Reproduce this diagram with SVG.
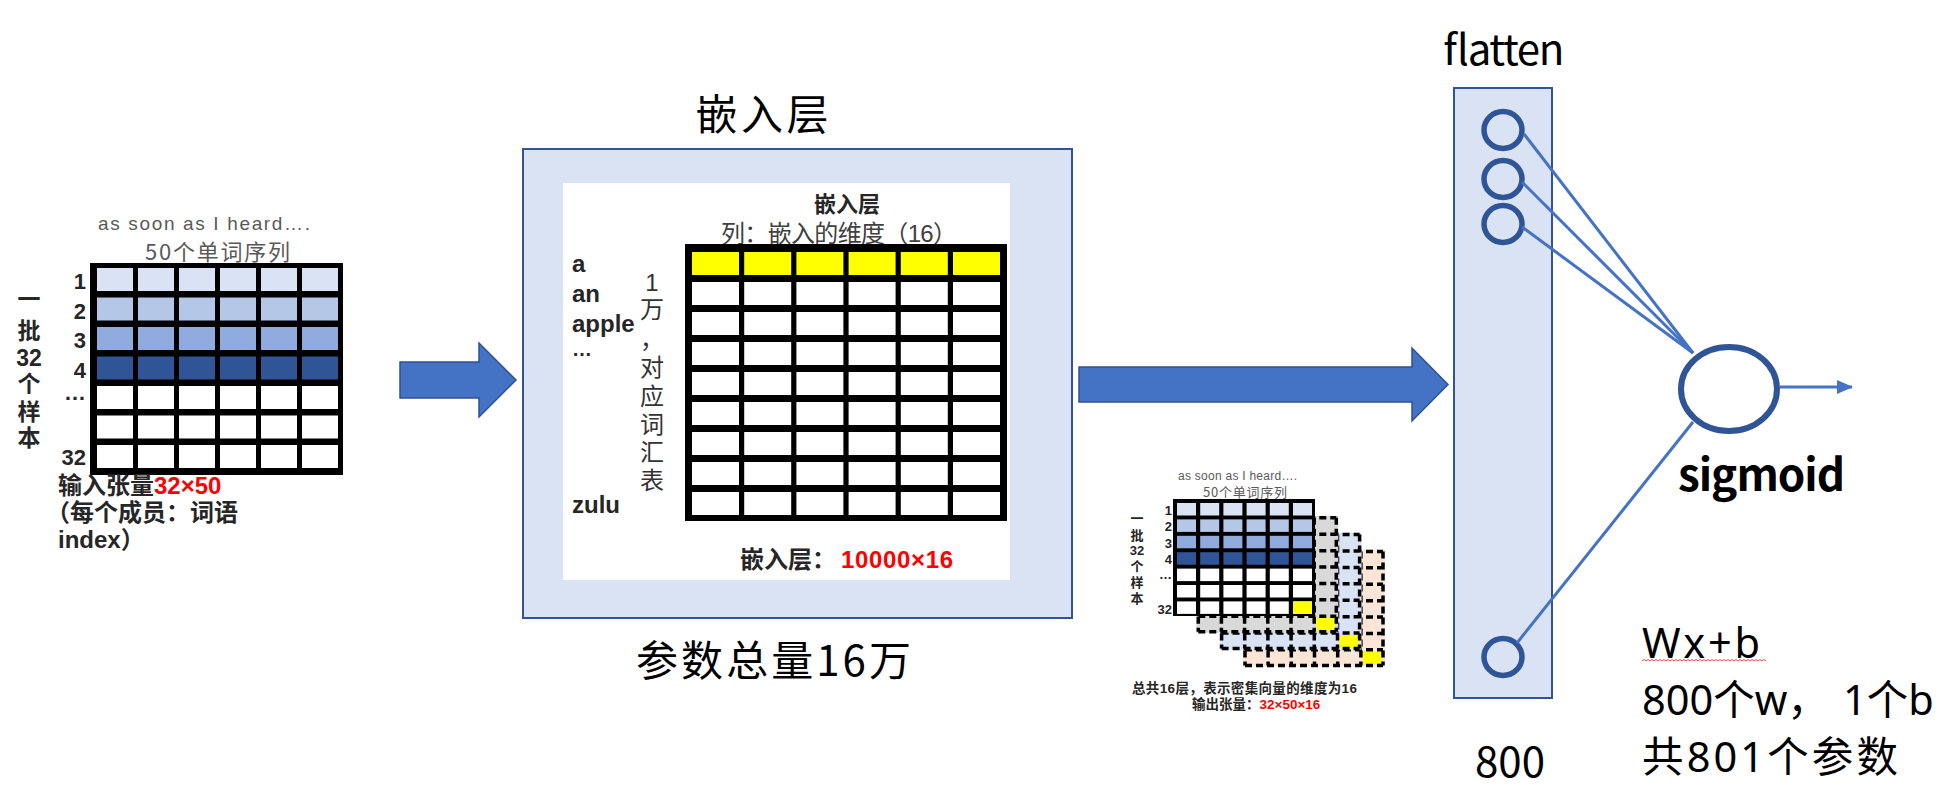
<svg xmlns="http://www.w3.org/2000/svg" width="1939" height="794" viewBox="0 0 1939 794">
<style>
.cn{font-family:"Noto Sans CJK SC","Noto Sans",sans-serif}
.lc{font-family:"Liberation Sans","Noto Sans CJK SC",sans-serif}
.ns{font-family:"Noto Sans","Noto Sans CJK SC",sans-serif}
.lt{font-family:"Liberation Sans",Arial,sans-serif}
.b{font-weight:bold}
.gray{fill:#595959}
.dk{fill:#262626}
.red{fill:#ff0000}
.panel{fill:#dae3f3;stroke:#2f5597;stroke-width:2}
.blk{fill:#000}
.vl{stroke:#000;fill:none}
.neuron{fill:none;stroke:#2f5597}
.wire{stroke:#4472c4;stroke-width:3;fill:none}
.big{fill:#4472c4;stroke:#2f528f;stroke-width:1.5}
</style>
<defs>
<path id="dgrid" d="M1175,501V615M1198.1,501V615M1221.3,501V615M1244.5,501V615M1267.7,501V615M1290.9,501V615M1313,501V615M1175,501H1313M1175,517.45H1313M1175,533.85H1313M1175,550.25H1313M1175,566.65H1313M1175,583.05H1313M1175,599.45H1313M1175,615H1313" fill="none" stroke="#000" stroke-width="3.5" stroke-dasharray="7 4"/>
<marker id="ah" markerUnits="userSpaceOnUse" markerWidth="16" markerHeight="16" refX="15" refY="8" orient="auto">
<path d="M0,1 L16,8 L0,15 Z" fill="#4472c4"/>
</marker>
</defs>
<rect width="1939" height="794" fill="#fff"/>

<!-- Input tensor -->
<g id="input-tensor">
<text class="lt gray" x="98" y="230" font-size="19" textLength="212">as soon as I heard….</text>
<text class="cn gray" x="145" y="260" font-size="22" textLength="145">50个单词序列</text>
<rect class="blk" x="90" y="263" width="253" height="212"/>
<rect x="97" y="268" width="241" height="23" fill="#dae3f3"/>
<rect x="97" y="297.5" width="241" height="23" fill="#b4c7e7"/>
<rect x="97" y="327" width="241" height="23" fill="#8faadc"/>
<rect x="97" y="356.5" width="241" height="23" fill="#2f5597"/>
<rect x="97" y="386" width="241" height="23" fill="#fff"/>
<rect x="97" y="415.5" width="241" height="23" fill="#fff"/>
<rect x="97" y="445" width="241" height="23" fill="#fff"/>
<path class="vl" stroke-width="5" d="M135.5,263V475M176.5,263V475M217.5,263V475M258.5,263V475M299.5,263V475"/>
<text class="lc b dk" font-size="22" text-anchor="end"><tspan x="86" y="289">1</tspan><tspan x="86" y="318.5">2</tspan><tspan x="86" y="348">3</tspan><tspan x="86" y="377.5">4</tspan><tspan x="86" y="400">…</tspan><tspan x="86" y="465">32</tspan></text>
<text class="lc b dk" font-size="23" text-anchor="middle"><tspan x="29" y="307">一</tspan><tspan x="29" y="339">批</tspan><tspan x="29" y="366">32</tspan><tspan x="29" y="392">个</tspan><tspan x="29" y="420">样</tspan><tspan x="29" y="446">本</tspan></text>
<text class="lc b dk" font-size="24"><tspan x="58" y="494">输入张量<tspan class="red">32×50</tspan></tspan><tspan x="46" y="521">（每个成员：词语</tspan><tspan x="58" y="548">index）</tspan></text>
</g>

<!-- Embedding layer -->
<g id="embedding-layer">
<text class="cn" x="762" y="130" font-size="42" text-anchor="middle" textLength="133" fill="#000">嵌入层</text>
<rect class="panel" x="523" y="149" width="549" height="469"/>
<rect x="563" y="183" width="447" height="397" fill="#fff"/>
<text class="lc b dk" x="847" y="212" font-size="22" text-anchor="middle">嵌入层</text>
<text class="lc" x="839" y="242" font-size="24" text-anchor="middle" textLength="236" fill="#404040">列：嵌入的维度（16）</text>
<text class="lc b dk" font-size="24"><tspan x="572" y="272">a</tspan><tspan x="572" y="302">an</tspan><tspan x="572" y="332">apple</tspan><tspan x="572" y="356" font-size="20">…</tspan><tspan x="572" y="513">zulu</tspan></text>
<text class="lc" font-size="24" text-anchor="middle" fill="#333"><tspan x="652" y="291">1</tspan><tspan x="652" y="318">万</tspan><tspan x="652" y="348">，</tspan><tspan x="652" y="376">对</tspan><tspan x="652" y="405">应</tspan><tspan x="652" y="433">词</tspan><tspan x="652" y="461">汇</tspan><tspan x="652" y="489">表</tspan></text>
<rect class="blk" x="685" y="244" width="322" height="277"/>
<rect x="692" y="252" width="308" height="23" fill="#ffff00"/>
<rect x="692" y="282" width="308" height="23" fill="#fff"/>
<rect x="692" y="312" width="308" height="23" fill="#fff"/>
<rect x="692" y="342" width="308" height="23" fill="#fff"/>
<rect x="692" y="372" width="308" height="23" fill="#fff"/>
<rect x="692" y="402" width="308" height="23" fill="#fff"/>
<rect x="692" y="432" width="308" height="23" fill="#fff"/>
<rect x="692" y="462" width="308" height="23" fill="#fff"/>
<rect x="692" y="492" width="308" height="23" fill="#fff"/>
<path class="vl" stroke-width="5.2" d="M741.6,244V521M793.8,244V521M846,244V521M898.2,244V521M950.4,244V521"/>
<text class="cn b dk" x="740" y="568" font-size="24">嵌入层：<tspan class="lt red" x="841" textLength="112">10000×16</tspan></text>
<text class="cn" x="636" y="676" font-size="42" textLength="275" fill="#000">参数总量16万</text>
</g>

<!-- Output tensor -->
<g id="output-tensor">
<text class="lt gray" x="1178" y="480" font-size="12" textLength="119">as soon as I heard….</text>
<text class="cn gray" x="1203" y="497" font-size="13" textLength="84">50个单词序列</text>
<g transform="translate(70,50.4)">
<rect x="1173" y="499" width="142" height="117" fill="#fbe5d6"/>
<rect x="1293" y="601.4" width="19" height="12.5" fill="#ffff00"/>
<use href="#dgrid"/>
</g>
<g transform="translate(46.6,33.6)">
<rect x="1173" y="499" width="142" height="117" fill="#dae3f3"/>
<rect x="1293" y="601.4" width="19" height="12.5" fill="#ffff00"/>
<use href="#dgrid"/>
</g>
<g transform="translate(23.3,16.8)">
<rect x="1173" y="499" width="142" height="117" fill="#d9d9d9"/>
<rect x="1293" y="601.4" width="19" height="12.5" fill="#ffff00"/>
<use href="#dgrid"/>
</g>
<rect class="blk" x="1173" y="499" width="142" height="117"/>
<rect x="1177" y="503" width="135" height="12.5" fill="#dae3f3"/>
<rect x="1177" y="519.4" width="135" height="12.5" fill="#b4c7e7"/>
<rect x="1177" y="535.8" width="135" height="12.5" fill="#8faadc"/>
<rect x="1177" y="552.2" width="135" height="12.5" fill="#2f5597"/>
<rect x="1177" y="568.6" width="135" height="12.5" fill="#fff"/>
<rect x="1177" y="585" width="135" height="12.5" fill="#fff"/>
<rect x="1177" y="601.4" width="135" height="12.5" fill="#fff"/>
<rect x="1293" y="601.4" width="19" height="12.5" fill="#ffff00"/>
<path class="vl" stroke-width="4.2" d="M1198.1,499V616M1221.3,499V616M1244.5,499V616M1267.7,499V616M1290.9,499V616"/>
<text class="lc b dk" font-size="13" text-anchor="end"><tspan x="1172" y="515">1</tspan><tspan x="1172" y="531.4">2</tspan><tspan x="1172" y="547.8">3</tspan><tspan x="1172" y="564.2">4</tspan><tspan x="1172" y="579">…</tspan><tspan x="1172" y="614">32</tspan></text>
<text class="lc b dk" font-size="13" text-anchor="middle"><tspan x="1137" y="523">一</tspan><tspan x="1137" y="540">批</tspan><tspan x="1137" y="555">32</tspan><tspan x="1137" y="571">个</tspan><tspan x="1137" y="587">样</tspan><tspan x="1137" y="603">本</tspan></text>
<text class="lc b dk" font-size="13.5"><tspan x="1132" y="693" textLength="225">总共16层，表示密集向量的维度为16</tspan><tspan x="1192" y="709">输出张量：<tspan class="red">32×50×16</tspan></tspan></text>
</g>

<!-- Flatten layer -->
<g id="flatten-layer">
<text class="cn" x="1442" y="65" font-size="42" textLength="121" fill="#000">flatten</text>
<rect class="panel" x="1454" y="88" width="98" height="610"/>
<ellipse class="neuron" cx="1503" cy="130" rx="19" ry="18.5" stroke-width="5.5"/>
<ellipse class="neuron" cx="1503" cy="179" rx="19" ry="18.5" stroke-width="5.5"/>
<ellipse class="neuron" cx="1503" cy="224" rx="19" ry="18.5" stroke-width="5.5"/>
<ellipse class="neuron" cx="1503" cy="657" rx="19" ry="18.5" stroke-width="5.5"/>
<text class="cn" x="1475" y="777" font-size="42" textLength="70" fill="#000">800</text>
</g>

<!-- Sigmoid node -->
<g id="sigmoid-node">
<ellipse class="neuron" cx="1729" cy="389" rx="48" ry="42" stroke-width="6" fill="#fff"/>
<text class="cn b" x="1678" y="491" font-size="44" textLength="167" fill="#000">sigmoid</text>
</g>

<!-- Formula -->
<g id="formula">
<text class="ns" font-size="41.5" fill="#000"><tspan x="1642" y="658" textLength="118">Wx+b</tspan><tspan x="1642" y="715">800个w，</tspan><tspan x="1843" y="715">1个b</tspan><tspan x="1642" y="772" textLength="256">共801个参数</tspan></text>
<path d="M1642,661l2,-1.5l2,1.5l2,-1.5l2,1.5l2,-1.5l2,1.5l2,-1.5l2,1.5l2,-1.5l2,1.5l2,-1.5l2,1.5l2,-1.5l2,1.5l2,-1.5l2,1.5l2,-1.5l2,1.5l2,-1.5l2,1.5l2,-1.5l2,1.5l2,-1.5l2,1.5l2,-1.5l2,1.5l2,-1.5l2,1.5l2,-1.5l2,1.5l2,-1.5l2,1.5l2,-1.5l2,1.5l2,-1.5l2,1.5l2,-1.5l2,1.5l2,-1.5l2,1.5l2,-1.5l2,1.5l2,-1.5l2,1.5l2,-1.5l2,1.5l2,-1.5l2,1.5l2,-1.5l2,1.5l2,-1.5l2,1.5l2,-1.5l2,1.5l2,-1.5l2,1.5l2,-1.5l2,1.5l2,-1.5l2,1.5l2,-1.5l2,1.5" fill="none" stroke="#e05050" stroke-width="1"/>
</g>

<!-- Connectors -->
<g id="connectors">
<polygon class="big" points="400,362 479,362 479,343 516,380 479,417 479,398 400,398"/>
<polygon class="big" points="1079,367 1412,367 1412,348 1448,384.5 1412,421 1412,402 1079,402"/>
<line class="wire" x1="1524" y1="134" x2="1693" y2="353"/>
<line class="wire" x1="1522" y1="182" x2="1693" y2="353"/>
<line class="wire" x1="1522" y1="227" x2="1693" y2="353"/>
<line class="wire" x1="1517" y1="643" x2="1693" y2="422"/>
<line class="wire" x1="1780" y1="387" x2="1852" y2="387" marker-end="url(#ah)"/>
</g>
</svg>
